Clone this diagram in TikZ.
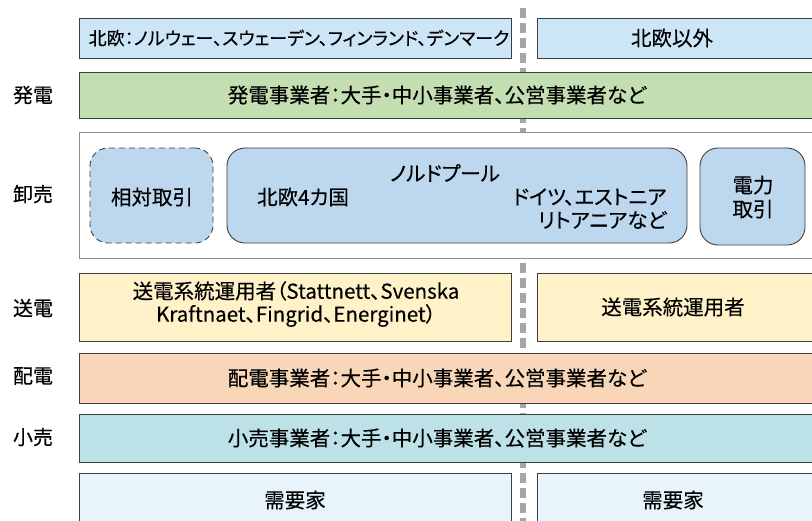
\documentclass[tikz,border=0pt]{standalone}
\usepackage{fontspec}
\setmainfont[RawFeature=+palt, FakeBold=0.3]{Noto Sans CJK JP}
\definecolor{cTop}{HTML}{CCE6F7}
\definecolor{cGen}{HTML}{C3DFB1}
\definecolor{cWs}{HTML}{BDD7EE}
\definecolor{cTr}{HTML}{FFF2C8}
\definecolor{cDi}{HTML}{F9D6B8}
\definecolor{cRe}{HTML}{BCE1E6}
\definecolor{cCu}{HTML}{E7F4FC}
\definecolor{cLine}{HTML}{A6A6A6}
\definecolor{cBord}{HTML}{3F3F3F}
\begin{document}
\begin{tikzpicture}[x=1pt,y=-1pt,
  every node/.style={font=\fontsize{20.5}{24}\selectfont, text=black},
  band/.style={draw=cBord, line width=0.9pt, inner sep=0pt, align=center},
  lab/.style={font=\fontsize{20}{24}\selectfont},
  rbox/.style={draw=cBord, line width=0.9pt, fill=cWs, rounded corners=18pt, inner sep=0pt}]
\useasboundingbox (0,0) rectangle (812,520);
\clip (0,0) rectangle (812,520);
% divider
\draw[cLine, line width=6pt, dash pattern=on 10pt off 5pt] (523,8) -- (523,525);
% top
\node[band, fill=cTop, minimum width=432pt, minimum height=40pt] (nordic) at (295,38) {};
\node[font=\fontsize{18}{22}\selectfont] (nordict) at (299,38) {北欧：ノルウェー、スウェーデン、フィンランド、デンマーク};
\node[band, fill=cTop, minimum width=278pt, minimum height=40pt] (other) at (676,38) {};
\node (othert) at (672,38) {北欧以外};
% generation
\node[band, fill=cGen, minimum width=736pt, minimum height=46pt] (gen) at (447,95) {};
\node (gent) at (437,95) {発電事業者：大手・中小事業者、公営事業者など};
\node[lab] (lgen) at (33,95) {発電};
% wholesale
\node[draw=gray!90, line width=0.9pt, fill=white, minimum width=736pt, minimum height=126pt, inner sep=0pt] (ws) at (447,195) {};
\node[rbox, dashed, dash pattern=on 6pt off 4pt, minimum width=123pt, minimum height=95pt] (rel) at (151.5,195.5) {};
\node (relt) at (152,197) {相対取引};
\node[rbox, minimum width=460pt, minimum height=95pt] (np) at (457,195.5) {};
\node (npt) at (445,173) {ノルドプール};
\node (np1) at (303,197) {北欧4カ国};
\node[anchor=east] (np2) at (670,197) {ドイツ、エストニア};
\node[anchor=east] (np3) at (670,220) {リトアニアなど};
\node[rbox, minimum width=105pt, minimum height=97pt] (pt) at (752.5,196.5) {};
\node[align=center, font=\fontsize{20.5}{24}\selectfont] (ptt) at (753,197) {電力\\取引};
\node[lab] (lws) at (33,194) {卸売};
% transmission
\node[band, fill=cTr, minimum width=432pt, minimum height=68pt] (tr1) at (295,307) {};
\node[align=center, font=\fontsize{20.5}{23}\selectfont] (tr1t) at (296,304) {送電系統運用者（Stattnett、Svenska\\Kraftnaet、Fingrid、Energinet）};
\node[band, fill=cTr, minimum width=278pt, minimum height=68pt] (tr2) at (676,307) {};
\node (tr2t) at (673,307) {送電系統運用者};
\node[lab] (ltr) at (33,308) {送電};
% distribution
\node[band, fill=cDi, minimum width=736pt, minimum height=50pt] (di) at (447,378) {};
\node (dit) at (437,378) {配電事業者：大手・中小事業者、公営事業者など};
\node[lab] (ldi) at (33,376) {配電};
% retail
\node[band, fill=cRe, minimum width=736pt, minimum height=48pt] (re) at (447,438) {};
\node (ret) at (437,438) {小売事業者：大手・中小事業者、公営事業者など};
\node[lab] (lre) at (33,437) {小売};
% customers
\node[band, fill=cCu, minimum width=432pt, minimum height=70pt] (cu1) at (295,508) {};
\node (cu1t) at (295,500) {需要家};
\node[band, fill=cCu, minimum width=278pt, minimum height=70pt] (cu2) at (676,508) {};
\node (cu2t) at (673,500) {需要家};
\end{tikzpicture}
\end{document}
